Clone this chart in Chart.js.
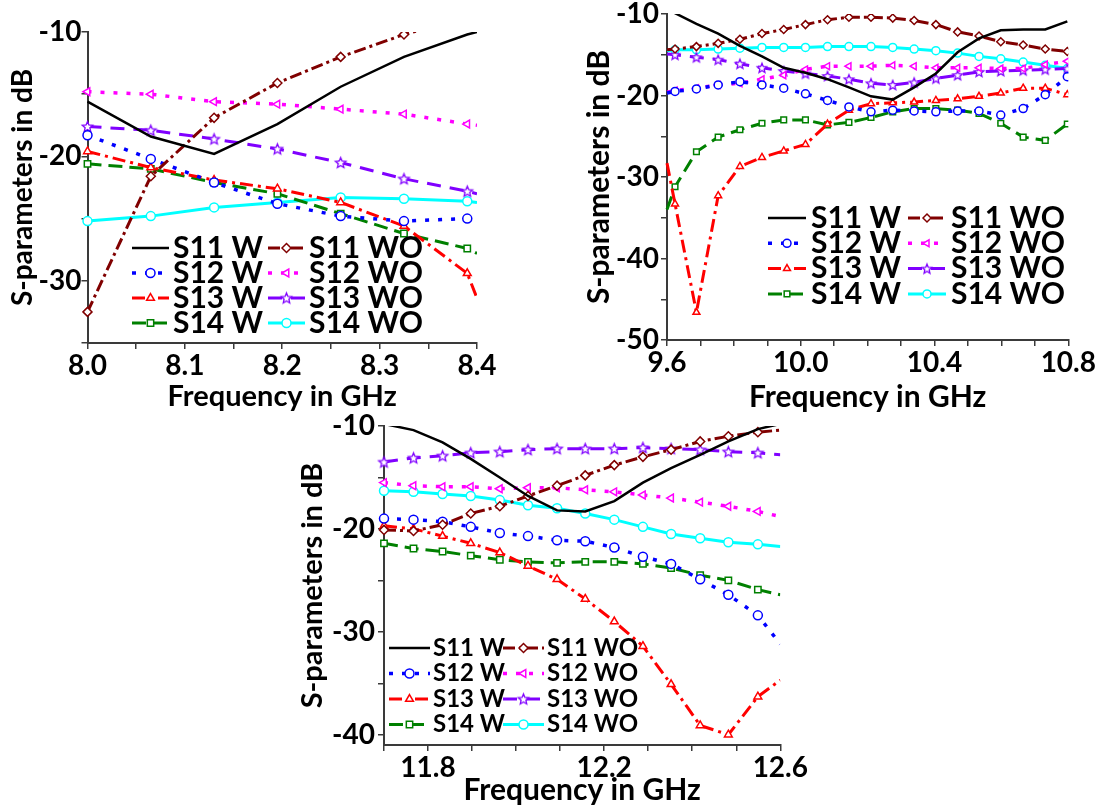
<!DOCTYPE html>
<html>
<head>
<meta charset="utf-8">
<script src="https://cdn.jsdelivr.net/npm/chart.js@4.4.0/dist/chart.umd.min.js"></script>
<style>
  html, body { margin: 0; padding: 0; background: #fff; }
  #wrap { position: relative; width: 1096px; height: 810px; overflow: hidden; }
  #wrap canvas { position: absolute; }
</style>
</head>
<body>
<div id="wrap">
  <canvas id="c1"></canvas>
  <canvas id="c2"></canvas>
  <canvas id="c3"></canvas>
</div>
<script>
// Series names (legend order: W / WO pairs)
const seriesNames = ['S11 W', 'S11 WO', 'S12 W', 'S12 WO', 'S13 W', 'S13 WO', 'S14 W', 'S14 WO'];

// Panel 1: 8.0 - 8.4 GHz
const freq1 = [8.0, 8.065, 8.13, 8.195, 8.26, 8.325, 8.39, 8.4];
const s11w1  = [-15.6, -18.4, -19.8, -17.4, -14.4, -12.0, -10.2, -10.0];
const s11wo1 = [-32.5, -21.6, -16.9, -14.1, -12.0, -10.2, -8.8, -8.6];
const s12w1  = [-18.3, -20.2, -22.1, -23.8, -24.8, -25.2, -25.0, -25.0];
const s12wo1 = [-14.8, -15.0, -15.6, -15.8, -16.2, -16.6, -17.4, -17.5];
const s13w1  = [-19.6, -20.9, -21.9, -22.6, -23.7, -25.6, -29.4, -31.4];
const s13wo1 = [-17.6, -17.9, -18.6, -19.4, -20.5, -21.8, -22.8, -23.0];
const s14w1  = [-20.6, -21.0, -22.1, -23.0, -24.6, -26.2, -27.4, -27.8];
const s14wo1 = [-25.2, -24.8, -24.1, -23.7, -23.3, -23.4, -23.6, -23.7];

// Panel 2: 9.6 - 10.8 GHz
const freq2 = [9.6, 9.624, 9.688, 9.753, 9.818, 9.884, 9.949, 10.014, 10.08, 10.144,
               10.21, 10.275, 10.339, 10.404, 10.469, 10.533, 10.598, 10.665, 10.731, 10.797];
const s11w2  = [-9.4, -9.9, -11.2, -12.4, -13.9, -15.2, -16.6, -17.2, -18.0, -19.0,
                -20.1, -20.5, -19.0, -17.3, -14.7, -13.0, -12.0, -11.9, -11.9, -10.9];
const s11wo2 = [-14.4, -14.3, -14.0, -13.6, -13.1, -12.4, -11.9, -11.3, -10.7, -10.4,
                -10.4, -10.5, -10.8, -11.3, -12.2, -12.7, -13.4, -13.8, -14.3, -14.6];
const s12w2  = [-19.7, -19.5, -19.2, -18.7, -18.3, -18.7, -19.1, -19.8, -20.6, -21.4,
                -22.0, -21.8, -21.9, -22.0, -21.9, -21.9, -22.4, -21.6, -19.9, -17.7];
const s12wo2 = [-19.6, -19.4, -19.1, -18.7, -18.5, -18.0, -17.5, -16.8, -16.4, -16.4,
                -16.4, -16.3, -16.4, -16.6, -16.6, -16.6, -16.7, -16.7, -16.2, -15.8];
const s13w2  = [-28.3, -33.3, -46.6, -32.3, -28.7, -27.6, -26.8, -26.0, -23.5, -21.8,
                -21.0, -20.9, -20.8, -20.6, -20.4, -20.1, -19.7, -19.1, -19.1, -19.9];
const s13wo2 = [-14.9, -15.0, -15.3, -15.6, -16.1, -16.6, -17.0, -17.3, -17.6, -18.0,
                -18.5, -18.7, -18.4, -17.9, -17.5, -17.1, -17.0, -16.9, -16.8, -16.7];
const s14w2  = [-34.0, -31.2, -26.9, -25.1, -24.2, -23.4, -23.0, -23.0, -23.6, -23.3,
                -22.7, -22.0, -21.6, -21.6, -21.8, -22.2, -23.4, -25.1, -25.5, -23.5];
const s14wo2 = [-14.5, -14.4, -14.4, -14.3, -14.2, -14.1, -14.1, -14.1, -14.0, -14.0,
                -14.0, -14.1, -14.3, -14.5, -14.8, -15.2, -15.5, -15.9, -16.3, -16.7];

// Panel 3: 11.7 - 12.6 GHz
const freq3 = [11.7, 11.767, 11.833, 11.897, 11.963, 12.027, 12.093, 12.157,
               12.223, 12.288, 12.352, 12.418, 12.482, 12.549, 12.6];
const s11w3  = [-9.8, -10.4, -11.6, -13.2, -15.0, -16.8, -18.2, -18.3, -17.3, -15.5, -14.1, -12.8, -11.5, -10.3, -9.8];
const s11wo3 = [-20.1, -20.2, -19.6, -18.5, -17.8, -16.8, -15.8, -14.8, -13.8, -13.0, -12.3, -11.5, -11.0, -10.6, -10.4];
const s12w3  = [-19.0, -19.1, -19.3, -19.8, -20.4, -20.7, -21.1, -21.2, -21.8, -22.7, -23.4, -24.9, -26.4, -28.4, -31.2];
const s12wo3 = [-15.5, -15.8, -15.9, -15.9, -16.1, -16.0, -16.0, -16.2, -16.4, -16.7, -17.0, -17.4, -17.8, -18.3, -18.8];
const s13w3  = [-19.7, -20.0, -20.7, -21.4, -22.3, -23.6, -24.9, -26.8, -29.0, -31.4, -35.1, -39.1, -40.0, -36.3, -34.7];
const s13wo3 = [-13.5, -13.1, -12.9, -12.6, -12.5, -12.3, -12.2, -12.2, -12.2, -12.1, -12.2, -12.3, -12.5, -12.6, -12.8];
const s14w3  = [-21.4, -21.9, -22.2, -22.6, -23.0, -23.2, -23.3, -23.2, -23.2, -23.4, -23.8, -24.5, -25.0, -25.9, -26.4];
const s14wo3 = [-16.3, -16.4, -16.6, -16.8, -17.2, -17.7, -18.0, -18.5, -19.1, -19.8, -20.5, -20.9, -21.3, -21.5, -21.7];

// Line / marker styles, same order as seriesNames
const lineColors = ['#000000', '#800000', '#0000ff', '#ff00ff', '#ff0000', '#8000ff', '#008000', '#00ffff'];
const lineDashes = [[], [12, 4, 3, 4], [4, 9], [4, 9], [13, 5, 3, 5], [14, 9], [14, 7], []];
const lineWidths = [2.5, 3, 3.5, 3.5, 3, 3, 3, 3];
const markers = [null, 'rectRot', 'circle', 'triangle', 'triangle', 'star', 'rect', 'circle'];
const markerRot = [0, 0, 0, -90, 0, 0, 0, 0];

Chart.defaults.font.family = 'Lato';
Chart.defaults.font.weight = 'bold';
Chart.defaults.color = '#000';

function starImg(color, r) {
    const c = document.createElement('canvas');
    const s = Math.ceil(r * 2 + 4);
    c.width = c.height = s;
    const g = c.getContext('2d');
    g.translate(s / 2, s / 2 + 0.5);
    g.beginPath();
    for (let k = 0; k < 10; k++) {
        const rr = k % 2 ? r * 0.45 : r;
        const a = -Math.PI / 2 + k * Math.PI / 5;
        g.lineTo(rr * Math.cos(a), rr * Math.sin(a));
    }
    g.closePath();
    g.fillStyle = '#fff';
    g.fill();
    g.strokeStyle = color;
    g.lineWidth = 1.3;
    g.stroke();
    return c;
}

// Two-column legend drawn inside the plot area
const sLegend = {
    id: 'sLegend',
    afterDatasetsDraw(chart, args, opts) {
        const ctx = chart.ctx;
        ctx.save();
        chart.data.datasets.forEach((ds, i) => {
            const col = i % 2, row = Math.floor(i / 2);
            const x = opts.cols[col], y = opts.y0 + row * opts.dy;
            ctx.strokeStyle = ds.borderColor;
            ctx.lineWidth = ds.borderWidth;
            ctx.setLineDash(ds.borderDash);
            ctx.beginPath();
            ctx.moveTo(x, y);
            ctx.lineTo(x + opts.len, y);
            ctx.stroke();
            ctx.setLineDash([]);
            if (ds.pointStyle) {
                ctx.fillStyle = '#fff';
                ctx.strokeStyle = ds.borderColor;
                ctx.lineWidth = 1.5;
                Chart.helpers.drawPoint(ctx, {
                    pointStyle: ds.pointStyle, rotation: ds.pointRotation,
                    radius: opts.r, borderWidth: 1.5
                }, x + opts.len / 2, y);
            }
            ctx.fillStyle = '#000';
            ctx.font = 'bold ' + opts.size + 'px Lato';
            ctx.textBaseline = 'middle';
            ctx.textAlign = 'left';
            ctx.fillText(ds.label, x + opts.len + opts.gap, y);
        });
        ctx.restore();
    }
};

function makeChart(cfg) {
    const canvas = document.getElementById(cfg.id);
    canvas.width = cfg.width;
    canvas.height = cfg.height;
    canvas.style.left = cfg.left + 'px';
    canvas.style.top = cfg.top + 'px';

    const datasets = cfg.series.map((vals, i) => {
        const n = vals.length;
        let style = markers[i];
        if (style === 'star') style = starImg(lineColors[i], cfg.r + 1);
        return {
            label: seriesNames[i],
            data: vals.map((v, k) => ({ x: cfg.freq[k], y: v })),
            borderColor: lineColors[i],
            borderWidth: lineWidths[i],
            borderDash: lineDashes[i],
            tension: 0,
            fill: false,
            pointStyle: style || false,
            pointRotation: markerRot[i],
            pointBackgroundColor: '#fff',
            pointBorderColor: lineColors[i],
            pointBorderWidth: 1.5,
            pointRadius: c => {
                if (!style) return 0;
                if (cfg.noMark === 'first' && c.dataIndex === 0) return 0;
                if (cfg.noMark === 'last' && c.dataIndex === n - 1) return 0;
                return cfg.r;
            },
            clip: { left: 8, top: 0, right: 0, bottom: 0 }
        };
    });

    const legendOpts = Object.assign({}, cfg.legend, {
        cols: cfg.legend.cols.map(v => v - cfg.left),
        y0: cfg.legend.y0 - cfg.top
    });

    return new Chart(canvas, {
        type: 'line',
        data: { datasets },
        plugins: [sLegend],
        options: {
            responsive: false,
            animation: false,
            devicePixelRatio: 1,
            layout: { padding: { top: 20, right: cfg.padRight, left: 0, bottom: 0 } },
            plugins: {
                legend: { display: false },
                tooltip: { enabled: false },
                sLegend: legendOpts
            },
            scales: {
                x: {
                    type: 'linear',
                    min: cfg.xMin,
                    max: cfg.xMax,
                    afterFit: s => { s.height = cfg.xH; },
                    border: { display: true, color: '#3a3a3a', width: 2 },
                    grid: { drawOnChartArea: false, drawTicks: true, tickLength: 6, color: '#3a3a3a', lineWidth: 1.5 },
                    ticks: {
                        stepSize: cfg.xStep,
                        autoSkip: false,
                        maxRotation: 0,
                        padding: cfg.xTickPad,
                        font: { size: cfg.tickSize, weight: 'bold' },
                        callback: cfg.xLabel
                    },
                    title: {
                        display: true,
                        text: 'Frequency in GHz',
                        font: { size: cfg.xTitleSize, weight: 'bold' },
                        padding: { top: 0, bottom: 0 }
                    }
                },
                y: {
                    type: 'linear',
                    min: cfg.yMin,
                    max: cfg.yMax,
                    afterFit: s => { s.width = cfg.yW; },
                    border: { display: true, color: '#3a3a3a', width: 2 },
                    grid: { drawOnChartArea: false, drawTicks: true, tickLength: 6, color: '#3a3a3a', lineWidth: 1.5 },
                    ticks: {
                        stepSize: 5,
                        includeBounds: false,
                        autoSkip: false,
                        padding: cfg.yTickPad,
                        font: { size: cfg.tickSize, weight: 'bold' },
                        callback: v => (Math.round(v) % 10 === 0 ? String(Math.round(v)) : '')
                    },
                    title: {
                        display: true,
                        text: 'S-parameters in dB',
                        font: { size: cfg.yTitleSize, weight: 'bold' },
                        padding: { top: cfg.yTitlePad, bottom: 0 }
                    }
                }
            }
        }
    });
}

// Panel 1
makeChart({
    id: 'c1', left: 0, top: 12, width: 507, height: 402, padRight: 30,
    yW: 87.5, xH: 71,
    xMin: 8.0, xMax: 8.4, xStep: 0.05,
    xLabel: v => { const r = Math.round(v * 100); return r % 10 === 0 ? (r / 100).toFixed(1) : ''; },
    yMin: -35, yMax: -10,
    freq: freq1,
    series: [s11w1, s11wo1, s12w1, s12wo1, s13w1, s13wo1, s14w1, s14wo1],
    noMark: 'last', r: 4.5,
    tickSize: 28, xTitleSize: 29, yTitleSize: 28, xTickPad: 0, yTickPad: 0, yTitlePad: 6,
    legend: { cols: [132, 268], y0: 248, dy: 25, len: 37, gap: 4, size: 30, r: 4.5 }
});

// Panel 2
makeChart({
    id: 'c2', left: 560, top: -6, width: 536, height: 421, padRight: 26.5,
    yW: 107, xH: 75,
    xMin: 9.6, xMax: 10.8, xStep: 0.1,
    xLabel: v => { const r = Math.round(v * 10); return r % 4 === 0 ? (r / 10).toFixed(1) : ''; },
    yMin: -50, yMax: -10,
    freq: freq2,
    series: [s11w2, s11wo2, s12w2, s12wo2, s13w2, s13wo2, s14w2, s14wo2],
    noMark: 'first', r: 4,
    tickSize: 28, xTitleSize: 30, yTitleSize: 30, xTickPad: 0, yTickPad: 2, yTitlePad: 21,
    legend: { cols: [768, 908], y0: 218, dy: 25.3, len: 38, gap: 5, size: 30, r: 4 }
});

// Panel 3
makeChart({
    id: 'c3', left: 290, top: 406, width: 518, height: 402, padRight: 25.3,
    yW: 94, xH: 63,
    xMin: 11.7, xMax: 12.6, xStep: 0.1,
    xLabel: v => { const r = Math.round(v * 10); return r % 4 === 2 ? (r / 10).toFixed(1) : ''; },
    yMin: -41, yMax: -10,
    freq: freq3,
    series: [s11w3, s11wo3, s12w3, s12wo3, s13w3, s13wo3, s14w3, s14wo3],
    noMark: 'last', r: 4.5,
    tickSize: 28, xTitleSize: 30, yTitleSize: 29, xTickPad: 0, yTickPad: 3, yTitlePad: 5.6,
    legend: { cols: [389, 503], y0: 648, dy: 25.5, len: 41, gap: 3, size: 24, r: 4.5 }
});
</script>
</body>
</html>
